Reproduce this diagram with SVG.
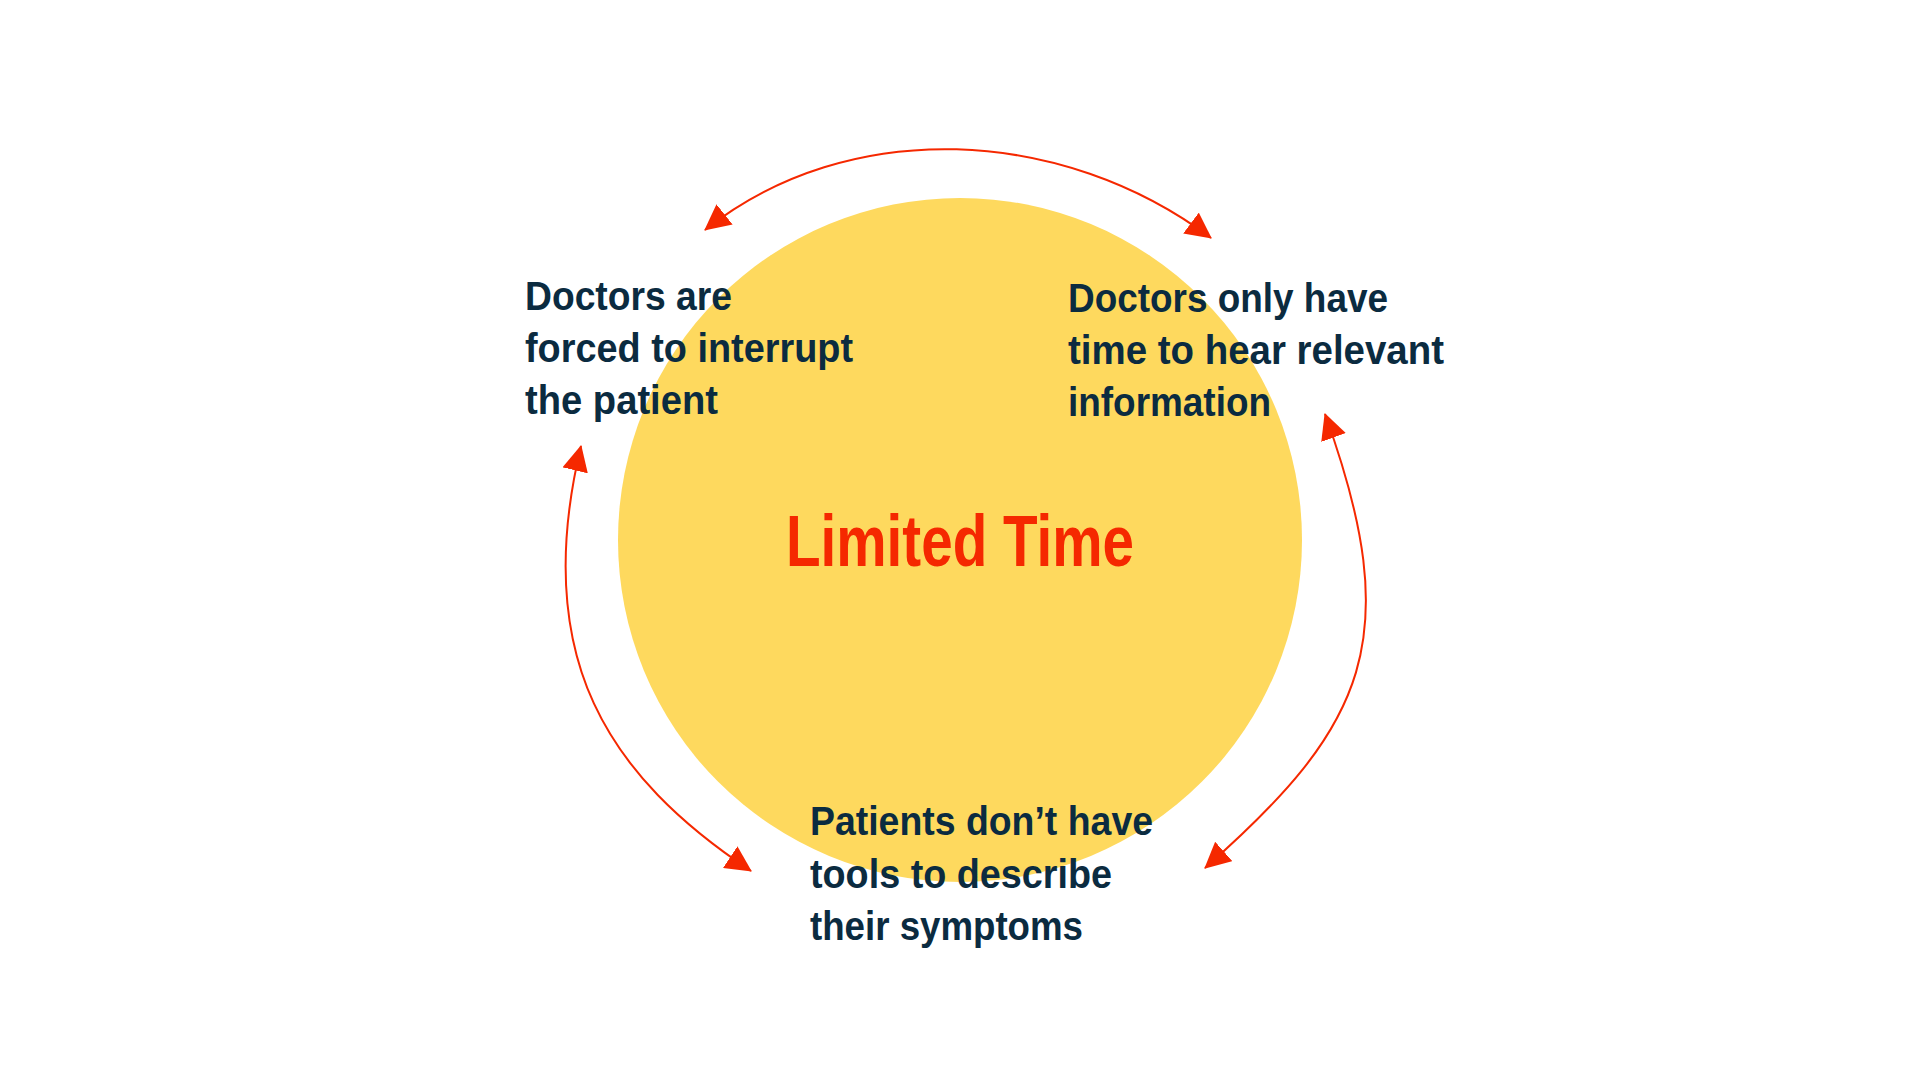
<svg xmlns="http://www.w3.org/2000/svg" width="1920" height="1080" viewBox="0 0 1920 1080">
  <style>
    .lbl { font-family: "Liberation Sans", Arial, sans-serif; font-weight: bold; font-size: 41px; fill: #0B2B40; }
    .title { font-family: "Liberation Sans", Arial, sans-serif; font-weight: bold; font-size: 72px; fill: #F52800; }
    .conn { fill: none; stroke: #F52800; stroke-width: 2; }
  </style>
  <defs>
    <marker id="arrow" markerUnits="userSpaceOnUse" viewBox="0 0 26 26" markerWidth="26" markerHeight="26" refX="25" refY="13" orient="auto-start-reverse">
      <path d="M0,0 L26,13 L0,26 Z" fill="#F52800"/>
    </marker>
  </defs>
  <rect width="1920" height="1080" fill="#FFFFFF"/>

  <g id="center">
    <circle cx="960" cy="540" r="342" fill="#FED95E"/>
    <text class="title" x="786" y="566" textLength="348" lengthAdjust="spacingAndGlyphs">Limited Time</text>
  </g>

  <g id="connectors">
    <path class="conn" d="M705,230 C849.3,115.3 1063,127 1211,238" marker-start="url(#arrow)" marker-end="url(#arrow)"/>
    <path class="conn" d="M1325,414 C1406.6,639.6 1366,726 1205,868" marker-start="url(#arrow)" marker-end="url(#arrow)"/>
    <path class="conn" d="M581,446 C529.7,659.8 610,777 751,871" marker-start="url(#arrow)" marker-end="url(#arrow)"/>
  </g>

  <g id="node-interrupt">
    <text class="lbl" x="525" y="310" textLength="207" lengthAdjust="spacingAndGlyphs">Doctors are</text>
    <text class="lbl" x="525" y="362" textLength="328" lengthAdjust="spacingAndGlyphs">forced to interrupt</text>
    <text class="lbl" x="525" y="414" textLength="193" lengthAdjust="spacingAndGlyphs">the patient</text>
  </g>

  <g id="node-relevant">
    <text class="lbl" x="1068" y="312" textLength="320" lengthAdjust="spacingAndGlyphs">Doctors only have</text>
    <text class="lbl" x="1068" y="364" textLength="376" lengthAdjust="spacingAndGlyphs">time to hear relevant</text>
    <text class="lbl" x="1068" y="416" textLength="203" lengthAdjust="spacingAndGlyphs">information</text>
  </g>

  <g id="node-tools">
    <text class="lbl" x="810" y="835" textLength="343" lengthAdjust="spacingAndGlyphs">Patients don’t have</text>
    <text class="lbl" x="810" y="888" textLength="302" lengthAdjust="spacingAndGlyphs">tools to describe</text>
    <text class="lbl" x="810" y="940" textLength="273" lengthAdjust="spacingAndGlyphs">their symptoms</text>
  </g>
</svg>
